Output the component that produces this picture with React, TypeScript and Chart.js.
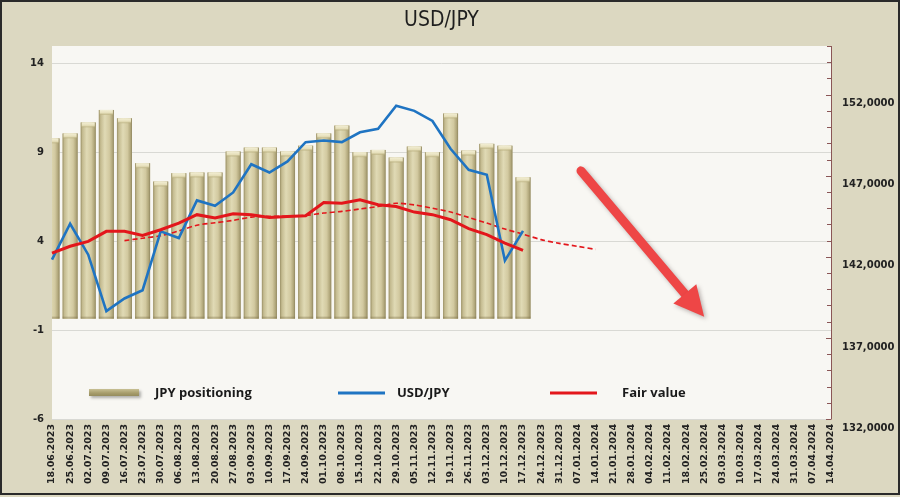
import React, { useEffect, useRef } from 'react';
import { Chart, registerables } from 'chart.js';
Chart.register(...registerables);

const dates = [
  '18.06.2023', '25.06.2023', '02.07.2023', '09.07.2023', '16.07.2023', '23.07.2023', '30.07.2023',
  '06.08.2023', '13.08.2023', '20.08.2023', '27.08.2023', '03.09.2023', '10.09.2023', '17.09.2023',
  '24.09.2023', '01.10.2023', '08.10.2023', '15.10.2023', '22.10.2023', '29.10.2023', '05.11.2023',
  '12.11.2023', '19.11.2023', '26.11.2023', '03.12.2023', '10.12.2023', '17.12.2023', '24.12.2023',
  '31.12.2023', '07.01.2024', '14.01.2024', '21.01.2024', '28.01.2024', '04.02.2024', '11.02.2024',
  '18.02.2024', '25.02.2024', '03.03.2024', '10.03.2024', '17.03.2024', '24.03.2024', '31.03.2024',
  '07.04.2024', '14.04.2024',
];

const jpyPositioning = [
  9.8, 10.08, 10.7, 11.4, 10.93, 8.4, 7.37, 7.84, 7.88, 7.88, 9.06, 9.28, 9.28, 9.06,
  9.39, 10.08, 10.52, 9.02, 9.15, 8.72, 9.34, 9.02, 11.2, 9.11, 9.49, 9.39, 7.61,
];

const usdJpy = [
  141.83, 144.04, 142.13, 138.65, 139.43, 139.94, 143.57, 143.16, 145.48, 145.15, 145.97, 147.71,
  147.2, 147.88, 149.07, 149.17, 149.07, 149.68, 149.89, 151.32, 151.0, 150.38, 148.66, 147.37,
  147.06, 141.77, 143.6,
];

const fairValue = [
  142.23, 142.65, 142.95, 143.57, 143.57, 143.32, 143.67, 144.08, 144.6, 144.39, 144.66, 144.6,
  144.43, 144.49, 144.53, 145.35, 145.31, 145.52, 145.21, 145.1, 144.76, 144.6, 144.29, 143.74,
  143.37, 142.85, 142.4,
];

const fairTrend = [
  null, null, null, null, 143.0, 143.15, 143.3, 143.6, 143.95, 144.1, 144.25, 144.45, 144.5,
  144.5, 144.55, 144.7, 144.8, 144.95, 145.1, 145.3, 145.2, 145.0, 144.76, 144.43, 144.08,
  143.71, 143.4, 143.06, 142.83, 142.65, 142.46,
];

const leftTicks = [-6, -1, 4, 9, 14];
const rightTicks = [132, 137, 142, 147, 152];
// arrow annotation in data units: [category index, USD/JPY value]
const arrowFrom = [29.2, 147.3];
const arrowTo = [36.0, 138.3];

const legendItems = [
  { label: 'JPY positioning', kind: 'bar' },
  { label: 'USD/JPY', kind: 'line', color: '#1f74c2' },
  { label: 'Fair value', kind: 'line', color: '#e3161b' },
];

const BG = '#dcd8c1';
const PLOT_BG = '#f8f7f3';

const decoPlugin = {
  id: 'deco',
  beforeDraw(chart: any) {
    const { ctx, chartArea: a, width, height } = chart;
    ctx.save();
    ctx.fillStyle = BG;
    ctx.fillRect(0, 0, width, height);
    ctx.fillStyle = PLOT_BG;
    ctx.fillRect(a.left, a.top, a.right - a.left, a.bottom - a.top);
    // title
    ctx.fillStyle = '#1e1e1e';
    ctx.font = '21px "DejaVu Sans Condensed", "DejaVu Sans", sans-serif';
    ctx.textAlign = 'center';
    ctx.textBaseline = 'middle';
    ctx.fillText('USD/JPY', (a.left + a.right) / 2, 21);
    ctx.restore();
  },
  afterDatasetDraw(chart: any, args: any) {
    if (args.index !== 0) return;
    const { ctx, chartArea: a } = chart;
    const meta = chart.getDatasetMeta(0);
    ctx.save();
    ctx.beginPath();
    ctx.rect(a.left, a.top, a.right - a.left, a.bottom - a.top);
    ctx.clip();
    meta.data.forEach((el: any) => {
      const p = el.getProps(['x', 'y', 'base', 'width'], true);
      if (p.y == null || isNaN(p.y)) return;
      const l = p.x - p.width / 2;
      const r = p.x + p.width / 2;
      const top = Math.min(p.y, p.base);
      const bot = Math.max(p.y, p.base);
      const g = ctx.createLinearGradient(l, 0, r, 0);
      g.addColorStop(0, '#9a9066');
      g.addColorStop(0.12, '#c4bb90');
      g.addColorStop(0.4, '#e0dab5');
      g.addColorStop(0.7, '#d2c9a0');
      g.addColorStop(0.9, '#b0a67a');
      g.addColorStop(1, '#8f8660');
      ctx.fillStyle = g;
      ctx.fillRect(l, top, r - l, bot - top);
      // top cap
      const cg = ctx.createLinearGradient(0, top, 0, top + 5);
      cg.addColorStop(0, '#f2eed4');
      cg.addColorStop(0.6, '#e6dfba');
      cg.addColorStop(1, 'rgba(180,170,120,0.6)');
      ctx.fillStyle = cg;
      ctx.fillRect(l + 1, top, r - l - 2, 5);
      // bottom shading
      ctx.fillStyle = 'rgba(120,110,70,0.35)';
      ctx.fillRect(l, bot - 2, r - l, 2);
    });
    ctx.restore();
  },
  afterDraw(chart: any) {
    const { ctx, chartArea: a, scales, width, height } = chart;
    const y1 = scales.y1;
    const x = scales.x;
    ctx.save();
    // right axis line with minor ticks
    ctx.strokeStyle = '#8a5656';
    ctx.lineWidth = 1;
    ctx.beginPath();
    ctx.moveTo(a.right + 0.5, a.top);
    ctx.lineTo(a.right + 0.5, a.bottom);
    for (let v = y1.min; v <= y1.max; v += 1) {
      const py = Math.round(y1.getPixelForValue(v)) + 0.5;
      const len = (v - 132) % 5 === 0 ? 5 : 4;
      ctx.moveTo(a.right - len, py);
      ctx.lineTo(a.right + 0.5, py);
    }
    ctx.stroke();

    // arrow
    const sx = x.getPixelForValue(arrowFrom[0]);
    const sy = y1.getPixelForValue(arrowFrom[1]);
    const tx = x.getPixelForValue(arrowTo[0]);
    const ty = y1.getPixelForValue(arrowTo[1]);
    const ang = Math.atan2(ty - sy, tx - sx);
    const headLen = 30;
    const headHalf = 15;
    const bx = tx - headLen * Math.cos(ang);
    const by = ty - headLen * Math.sin(ang);
    ctx.shadowColor = 'rgba(60,40,40,0.35)';
    ctx.shadowBlur = 4;
    ctx.shadowOffsetX = 2;
    ctx.shadowOffsetY = 2;
    ctx.strokeStyle = '#ee4646';
    ctx.fillStyle = '#ee4646';
    ctx.lineWidth = 9;
    ctx.lineCap = 'round';
    ctx.beginPath();
    ctx.moveTo(sx, sy);
    ctx.lineTo(bx + 4 * Math.cos(ang), by + 4 * Math.sin(ang));
    ctx.stroke();
    ctx.beginPath();
    ctx.moveTo(tx, ty);
    ctx.lineTo(bx + headHalf * Math.sin(ang), by - headHalf * Math.cos(ang));
    ctx.lineTo(bx - headHalf * Math.sin(ang), by + headHalf * Math.cos(ang));
    ctx.closePath();
    ctx.fill();
    ctx.shadowColor = 'transparent';

    // legend
    const ly = 393;
    const swatchX = [89, 338, 550];
    const textX = [155, 397, 622];
    ctx.font = 'bold 13px "Open Sans", sans-serif';
    ctx.textBaseline = 'middle';
    ctx.textAlign = 'left';
    legendItems.forEach((it, i) => {
      if (it.kind === 'bar') {
        ctx.shadowColor = 'rgba(0,0,0,0.3)';
        ctx.shadowBlur = 3;
        ctx.shadowOffsetY = 2;
        const g = ctx.createLinearGradient(0, ly - 4, 0, ly + 4);
        g.addColorStop(0, '#c8c094');
        g.addColorStop(0.5, '#a79d6c');
        g.addColorStop(1, '#8f8658');
        ctx.fillStyle = g;
        ctx.fillRect(swatchX[i], ly - 4, 50, 7);
        ctx.shadowColor = 'transparent';
        ctx.shadowBlur = 0;
        ctx.shadowOffsetY = 0;
      } else {
        ctx.strokeStyle = it.color as string;
        ctx.lineWidth = 3;
        ctx.lineCap = 'butt';
        ctx.beginPath();
        ctx.moveTo(swatchX[i], ly);
        ctx.lineTo(swatchX[i] + 47, ly);
        ctx.stroke();
      }
      ctx.fillStyle = '#1a1a1a';
      ctx.fillText(it.label, textX[i], ly);
    });

    // frame
    ctx.strokeStyle = '#2a2a2a';
    ctx.lineWidth = 2;
    ctx.strokeRect(1, 1, width - 2, height - 4);
    ctx.restore();
  },
};

export default function App() {
  const ref = useRef<HTMLCanvasElement | null>(null);
  useEffect(() => {
    document.body.style.margin = '0';
    const canvas = ref.current!;
    const tickFont = { family: '"DejaVu Sans", sans-serif', size: 10, weight: 'bold' as const };
    const chart = new Chart(canvas, {
      type: 'bar',
      data: {
        labels: dates,
        datasets: [
          {
            type: 'bar',
            label: 'JPY positioning',
            data: jpyPositioning,
            yAxisID: 'y',
            base: -0.35,
            backgroundColor: '#cfc69c',
            borderWidth: 0,
            barPercentage: 0.83,
            categoryPercentage: 1,
            order: 10,
          } as any,
          {
            type: 'line',
            label: 'USD/JPY',
            data: usdJpy,
            yAxisID: 'y1',
            borderColor: '#1f74c2',
            borderWidth: 2.6,
            pointRadius: 0,
            tension: 0,
            order: 2,
          },
          {
            type: 'line',
            label: 'Fair value',
            data: fairValue,
            yAxisID: 'y1',
            borderColor: '#e3161b',
            borderWidth: 3,
            pointRadius: 0,
            tension: 0,
            order: 1,
          },
          {
            type: 'line',
            label: 'Fair value trend',
            data: fairTrend,
            yAxisID: 'y1',
            borderColor: '#e3161b',
            borderWidth: 1.6,
            borderDash: [5, 3],
            pointRadius: 0,
            tension: 0.3,
            spanGaps: false,
            order: 3,
          },
        ],
      },
      options: {
        responsive: false,
        animation: false,
        layout: { padding: { top: 46, left: 0, right: 0, bottom: 0 } },
        plugins: {
          legend: { display: false },
          tooltip: { enabled: false },
          title: { display: false },
        },
        scales: {
          x: {
            offset: false,
            grid: { display: false, drawTicks: false },
            border: { display: false },
            ticks: {
              autoSkip: false,
              maxRotation: 90,
              minRotation: 90,
              padding: 5,
              color: '#222',
              font: { family: '"DejaVu Sans", sans-serif', size: 9.5, weight: 'bold' },
            },
            afterFit: (s: any) => { s.height = 78; },
          },
          y: {
            position: 'left',
            min: -6,
            max: 15,
            afterBuildTicks: (s: any) => { s.ticks = leftTicks.map((v) => ({ value: v })); },
            grid: { color: '#d9d9d4', drawTicks: false },
            border: { display: false },
            ticks: { padding: 8, color: '#222', font: tickFont },
            afterFit: (s: any) => { s.width = 52; },
          },
          y1: {
            position: 'right',
            min: 132,
            max: 155,
            afterBuildTicks: (s: any) => { s.ticks = rightTicks.map((v) => ({ value: v })); },
            grid: { drawOnChartArea: false, drawTicks: false },
            border: { display: false },
            ticks: {
              padding: 11,
              labelOffset: 9,
              color: '#222',
              font: tickFont,
              callback: (v: any) => Number(v).toFixed(4).replace('.', ','),
            },
            afterFit: (s: any) => { s.width = 69; },
          },
        },
      },
      plugins: [decoPlugin],
    });
    return () => chart.destroy();
  }, []);
  return <canvas ref={ref} width={900} height={497} style={{ display: 'block' }} />;
}
